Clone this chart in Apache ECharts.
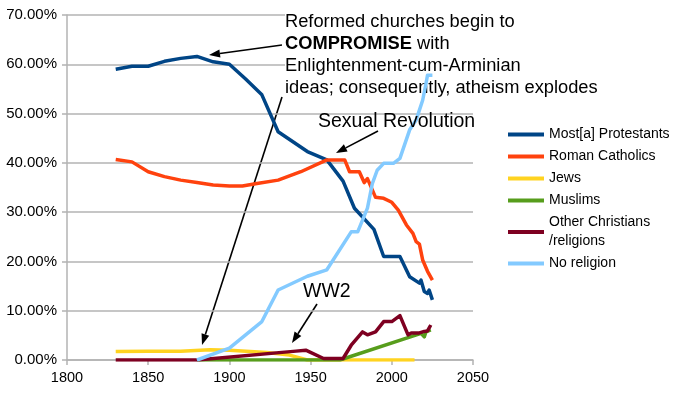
<!DOCTYPE html>
<html>
<head>
<meta charset="utf-8">
<script src="https://cdn.jsdelivr.net/npm/echarts@6/dist/echarts.min.js"></script>
<style>
  html, body { margin: 0; padding: 0; background: #fff; }
  #chart { width: 687px; height: 397px; }
</style>
</head>
<body>
<div id="chart"></div>
<script>
// 数据：每个系列一组年份和一组百分比
var protYears  = [1830, 1840, 1850, 1860, 1870, 1880, 1890, 1900, 1910, 1920, 1930, 1948, 1960, 1970, 1977, 1989, 1995, 2005, 2011, 2017, 2018, 2020, 2022, 2023, 2025];
var protValues = [59.0, 59.6, 59.6, 60.6, 61.2, 61.6, 60.5, 60.0, 57.0, 53.8, 46.3, 42.3, 40.6, 36.3, 30.8, 26.5, 21.0, 21.0, 16.9, 15.6, 16.2, 13.9, 13.5, 14.2, 12.2];

var cathYears  = [1830, 1840, 1850, 1860, 1870, 1880, 1890, 1900, 1908, 1917, 1930, 1944, 1960, 1971, 1974, 1980, 1983, 1985, 1990, 1995, 2000, 2004, 2009, 2013, 2014, 2015, 2017, 2019, 2022, 2025];
var cathValues = [40.7, 40.2, 38.2, 37.2, 36.5, 36.0, 35.5, 35.3, 35.3, 35.8, 36.5, 38.2, 40.6, 40.6, 38.2, 38.2, 36.0, 36.8, 33.0, 32.8, 32.0, 30.4, 27.4, 25.7, 26.0, 24.0, 23.5, 20.3, 18.0, 16.2];

var jewYears  = [1830, 1850, 1870, 1888, 1900, 1923, 1937, 1948, 2014];
var jewValues = [1.7, 1.8, 1.8, 2.1, 2.0, 1.5, 1.0, 0.0, 0.0];

var musYears  = [1880, 1968, 2018, 2020, 2021, 2024];
var musValues = [0.0, 0.0, 5.4, 4.7, 5.7, 6.1];

var othYears  = [1830, 1880, 1941, 1947, 1958, 1970, 1975, 1982, 1985, 1990, 1995, 2000, 2005, 2010, 2012, 2017, 2020, 2022, 2024];
var othValues = [0.0, 0.0, 1.8, 2.0, 0.3, 0.3, 3.0, 5.7, 5.1, 5.7, 7.8, 7.8, 9.0, 5.1, 5.5, 5.5, 5.8, 5.9, 7.1];

var noneYears  = [1880, 1900, 1920, 1930, 1948, 1960, 1975, 1979, 1985, 1988, 1991, 1995, 2001, 2005, 2011, 2015, 2017, 2019, 2021, 2022, 2025];
var noneValues = [0.0, 2.4, 7.8, 14.2, 17.0, 18.3, 26.0, 26.0, 30.8, 35.8, 38.5, 39.9, 39.9, 40.9, 46.7, 48.7, 50.7, 52.7, 56.0, 57.8, 57.8];

var seriesNames = ['Most[a] Protestants', 'Roman Catholics', 'Jews', 'Muslims', 'Other Christians\n/religions', 'No religion'];
var seriesColors = ['#004586', '#ff420e', '#ffd320', '#579d1c', '#7e0021', '#83caff'];

function pairs(xs, ys) {
    var out = [];
    for (var i = 0; i < xs.length; i++) {
        out.push([xs[i], ys[i]]);
    }
    return out;
}

var allData = [
    pairs(protYears, protValues),
    pairs(cathYears, cathValues),
    pairs(jewYears, jewValues),
    pairs(musYears, musValues),
    pairs(othYears, othValues),
    pairs(noneYears, noneValues)
];

// 箭头：一条线加一个三角形
function arrow(x1, y1, x2, y2) {
    var ang = Math.atan2(y2 - y1, x2 - x1);
    var len = 11, half = 4;
    var bx = x2 - len * Math.cos(ang), by = y2 - len * Math.sin(ang);
    var px = -Math.sin(ang) * half, py = Math.cos(ang) * half;
    return {
        type: 'group',
        z: 110,
        children: [{
            type: 'line',
            shape: { x1: x1, y1: y1, x2: bx, y2: by },
            style: { stroke: '#000', lineWidth: 1.6 }
        }, {
            type: 'polygon',
            shape: { points: [[x2, y2], [bx + px, by + py], [bx - px, by - py]] },
            style: { fill: '#000' }
        }]
    };
}

var chart = echarts.init(document.getElementById('chart'));

var series = [];
for (var i = 0; i < allData.length; i++) {
    series.push({
        name: seriesNames[i],
        type: 'line',
        data: allData[i],
        showSymbol: false,
        symbol: 'none',
        lineStyle: { width: 3.5, color: seriesColors[i], join: 'round' },
        itemStyle: { color: seriesColors[i] },
        animation: false
    });
}

var option = {
    animation: false,
    textStyle: { fontFamily: 'Liberation Sans' },
    grid: { left: 67, right: 214, top: 15, bottom: 37 },
    xAxis: {
        type: 'value',
        min: 1800,
        max: 2050,
        interval: 50,
        axisLine: { show: true, lineStyle: { color: '#b3b3b3', width: 1.5 } },
        axisTick: { show: true, length: 5, lineStyle: { color: '#b3b3b3', width: 1.5 } },
        axisLabel: {
            color: '#000', fontSize: 14.5, margin: 10, fontFamily: 'Liberation Sans',
            formatter: function (v) { return String(v); }
        },
        splitLine: { show: false }
    },
    yAxis: {
        type: 'value',
        min: 0,
        max: 70,
        interval: 10,
        axisLine: { show: true, lineStyle: { color: '#b3b3b3', width: 1.5 } },
        axisTick: { show: true, length: 5, lineStyle: { color: '#b3b3b3', width: 1.5 } },
        axisLabel: {
            color: '#000', fontSize: 15, margin: 10, fontFamily: 'Liberation Sans',
            formatter: function (v) { return v.toFixed(2) + '%'; }
        },
        splitLine: { show: true, lineStyle: { color: '#b3b3b3', width: 1.5 } }
    },
    legend: {
        orient: 'vertical',
        left: 508,
        top: 125,
        padding: 0,
        itemWidth: 36,
        itemHeight: 4,
        itemGap: 3,
        icon: 'rect',
        data: seriesNames,
        textStyle: { color: '#000', fontSize: 14, lineHeight: 19, fontFamily: 'Liberation Sans' }
    },
    graphic: [
        {
            // 白底盖住网格线，但在折线之下
            type: 'text',
            left: 285,
            top: 11,
            z: 1,
            style: {
                text: 'Reformed churches begin to\n{b|COMPROMISE} with\nEnlightenment-cum-Arminian\nideas; consequently, atheism explodes',
                font: '18.3px "Liberation Sans"',
                lineHeight: 22,
                fill: '#000',
                backgroundColor: '#fff',
                rich: {
                    b: { fontWeight: 'bold', fontSize: 18.3, fontFamily: 'Liberation Sans', lineHeight: 22 }
                }
            }
        },
        {
            type: 'text',
            left: 318,
            top: 112,
            z: 100,
            style: { text: 'Sexual Revolution', font: '19.5px "Liberation Sans"', fill: '#000' }
        },
        {
            type: 'text',
            left: 303,
            top: 282,
            z: 100,
            style: { text: 'WW2', font: '19.5px "Liberation Sans"', fill: '#000' }
        },
        arrow(282, 45, 209, 55),
        arrow(282, 97, 202, 345),
        arrow(378, 131, 336, 153),
        arrow(317, 304, 292, 343)
    ],
    series: series
};

chart.setOption(option);
</script>
</body>
</html>
